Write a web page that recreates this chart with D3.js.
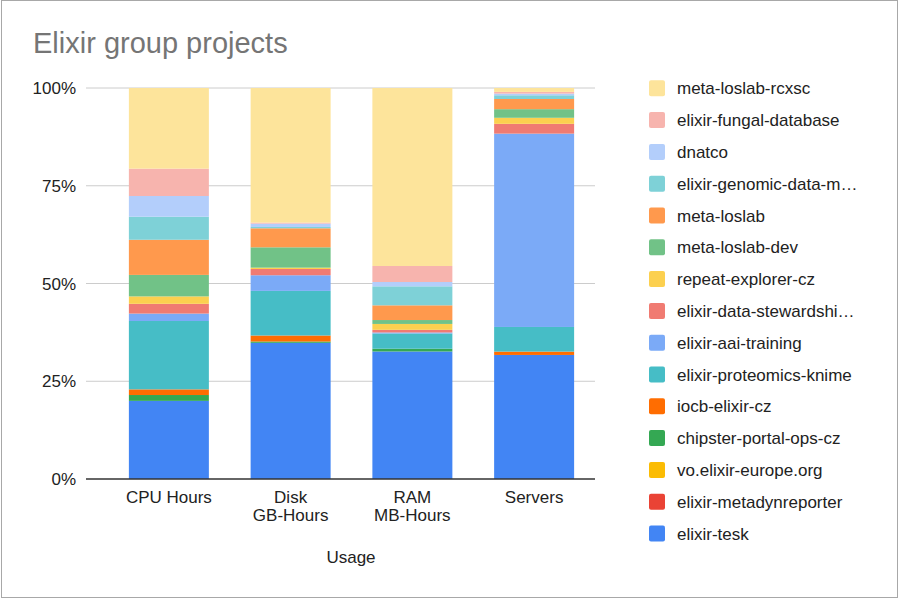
<!DOCTYPE html>
<html>
<head>
<meta charset="utf-8">
<script src="https://cdn.jsdelivr.net/npm/d3@7"></script>
<style>
  body { margin: 0; background: #fff; }
  svg text { font-family: Arial, "Liberation Sans", sans-serif; }
</style>
</head>
<body>
<div id="chart"></div>
<script>
var width = 899;
var height = 602;

// categories on the x axis (second line is optional)
var categories = ['CPU Hours', 'Disk|GB-Hours', 'RAM|MB-Hours', 'Servers'];

// series from bottom of the stack to the top
var seriesNames = [
  'elixir-tesk', 'elixir-metadynreporter', 'vo.elixir-europe.org', 'chipster-portal-ops-cz',
  'iocb-elixir-cz', 'elixir-proteomics-knime', 'elixir-aai-training', 'elixir-data-stewardship',
  'repeat-explorer-cz', 'meta-loslab-dev', 'meta-loslab', 'elixir-genomic-data-management',
  'dnatco', 'elixir-fungal-database', 'meta-loslab-rcxsc'
];
var seriesColors = [
  '#4285f4', '#ea4335', '#fbbc04', '#34a853', '#ff6d01', '#46bdc6', '#7baaf7', '#f07b72',
  '#fcd04f', '#71c287', '#ff994d', '#7ed1d7', '#b3cefb', '#f7b4ae', '#fde49b'
];

// share (%) of each series per category, same order as seriesNames
var cpuHours    = [20.0, 0, 0, 1.5, 1.45, 17.5, 1.9, 2.5, 1.9, 5.5, 9.0, 5.9, 5.3, 7.0, 20.65];
var diskHours   = [34.8, 0, 0, 0.34, 1.53, 11.4, 4.0, 1.6, 0.34, 5.2, 4.86, 0.34, 0.85, 0.26, 34.4];
var ramHours    = [32.6, 0, 0, 0.7, 0, 3.9, 0.26, 0.68, 1.5, 1.0, 3.76, 4.86, 1.1, 4.1, 45.5];
var servers     = [31.7, 0, 0, 0, 0.85, 6.3, 49.4, 2.5, 1.55, 2.2, 2.6, 0.95, 0.43, 0.43, 1.0];

var yTicks = [0, 0.25, 0.5, 0.75, 1];

// legend labels get cut like in the original
var legendNames = seriesNames.map(function(n) {
  if (n === 'elixir-genomic-data-management') return 'elixir-genomic-data-m\u2026';
  if (n === 'elixir-data-stewardship') return 'elixir-data-stewardshi\u2026';
  return n;
});

var columns = [cpuHours, diskHours, ramHours, servers];
var rows = categories.map(function(c, i) {
  var r = { cat: c };
  seriesNames.forEach(function(s, j) { r[s] = columns[i][j]; });
  return r;
});

var svg = d3.select('#chart').append('svg')
  .attr('width', width)
  .attr('height', height);

// chart frame
svg.append('rect')
  .attr('x', 1.5).attr('y', 0.5)
  .attr('width', 896).attr('height', 597)
  .attr('fill', '#fff')
  .attr('stroke', '#a8a8a8');

svg.append('text')
  .attr('x', 33).attr('y', 53)
  .attr('font-size', 29)
  .attr('fill', '#757575')
  .text('Elixir group projects');

var x = d3.scaleBand()
  .domain(categories)
  .range([108, 595])
  .paddingInner(0.343)
  .paddingOuter(0.1715);

var y = d3.scaleLinear().domain([0, 1]).range([479, 88]);

// gridlines
svg.append('g')
  .selectAll('line')
  .data(yTicks.slice(1))
  .enter().append('line')
  .attr('x1', 86).attr('x2', 595)
  .attr('y1', function(d) { return y(d); })
  .attr('y2', function(d) { return y(d); })
  .attr('stroke', '#cccccc');

svg.append('g')
  .selectAll('text')
  .data(yTicks)
  .enter().append('text')
  .attr('x', 76)
  .attr('y', function(d) { return y(d) + 6; })
  .attr('text-anchor', 'end')
  .attr('font-size', 17)
  .attr('fill', '#222')
  .text(d3.format('.0%'));

var stack = d3.stack().keys(seriesNames).offset(d3.stackOffsetExpand);
var layers = stack(rows);

svg.append('g')
  .selectAll('g')
  .data(layers)
  .enter().append('g')
  .attr('fill', function(d, i) { return seriesColors[i]; })
  .selectAll('rect')
  .data(function(d) { return d; })
  .enter().append('rect')
  .attr('x', function(d) { return x(d.data.cat); })
  .attr('width', x.bandwidth())
  .attr('y', function(d) { return y(d[1]); })
  .attr('height', function(d) { return y(d[0]) - y(d[1]); });

// baseline
svg.append('line')
  .attr('x1', 86).attr('x2', 595)
  .attr('y1', y(0)).attr('y2', y(0))
  .attr('stroke', '#333')
  .attr('stroke-width', 1.5);

// category labels
var catLabels = svg.append('g')
  .selectAll('text')
  .data(categories)
  .enter().append('text')
  .attr('text-anchor', 'middle')
  .attr('font-size', 17)
  .attr('fill', '#222')
  .attr('x', function(d) { return x(d) + x.bandwidth() / 2; })
  .attr('y', 503);

catLabels.each(function(d) {
  var parts = d.split('|');
  var t = d3.select(this);
  parts.forEach(function(p, i) {
    t.append('tspan')
      .attr('x', x(d) + x.bandwidth() / 2)
      .attr('dy', i === 0 ? 0 : 17.5)
      .text(p);
  });
});

svg.append('text')
  .attr('x', 351).attr('y', 563)
  .attr('text-anchor', 'middle')
  .attr('font-size', 17)
  .attr('fill', '#222')
  .text('Usage');

// legend, top item is the top of the stack
var legendOrder = d3.range(seriesNames.length).reverse();
var legend = svg.append('g')
  .selectAll('g')
  .data(legendOrder)
  .enter().append('g')
  .attr('transform', function(d, i) { return 'translate(649,' + (88.3 + i * 31.8) + ')'; });

legend.append('rect')
  .attr('x', 0).attr('y', -8)
  .attr('width', 16).attr('height', 16)
  .attr('rx', 2)
  .attr('fill', function(d) { return seriesColors[d]; });

legend.append('text')
  .attr('x', 28).attr('y', 6)
  .attr('font-size', 17)
  .attr('fill', '#222')
  .text(function(d) { return legendNames[d]; });
</script>
</body>
</html>
